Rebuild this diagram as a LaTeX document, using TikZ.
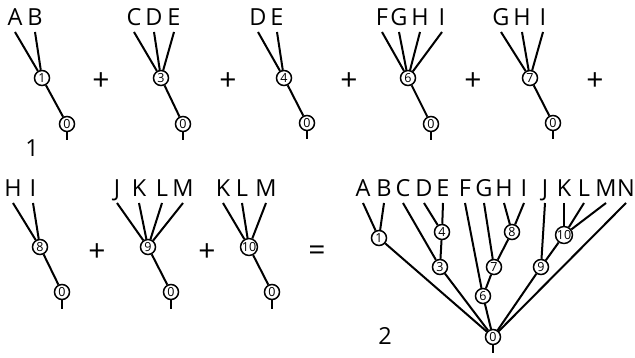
\documentclass[tikz,border=0pt]{standalone}
\usepackage{fontspec}
\setmainfont{Open Sans}
\tikzset{
  lbl/.style={anchor=south, inner xsep=0pt, inner ysep=6.5pt, text depth=0pt, font=\fontsize{23.5}{23.5}\selectfont},
  vtx/.style={circle, draw, line width=1.5pt, fill=white, minimum size=15pt, inner sep=0pt, font=\fontsize{12.5}{12.5}\selectfont},
  edge/.style={line width=2pt},
  op/.style={inner sep=0pt, font=\fontsize{30}{30}\selectfont},
  tag/.style={inner sep=0pt, font=\fontsize{23.5}{23.5}\selectfont},
}

\begin{document}
\begin{tikzpicture}[x=1pt, y=-1pt]
\useasboundingbox (0,0) rectangle (635,358);
% top row
\begin{scope}
  \foreach \l/\x in {A/15,B/35} \node[lbl] (a\l) at (\x,32) {\l};
  \node[vtx] (a1) at (42,78) {1};
  \node[vtx] (a0) at (67,124) {0};
  \coordinate (as) at (67,140);
  \foreach \l in {A,B} \draw[edge] (a\l.south) -- (a1);
  \draw[edge] (a1) -- (a0); \draw[edge] (a0) -- (as);
  \node[tag] (t1) at (32,148) {1};
\end{scope}
\node[op] (p1) at (101,82) {+};
\begin{scope}
  \foreach \l/\x in {C/134,D/154,E/174} \node[lbl] (b\l) at (\x,32) {\l};
  \node[vtx] (b3) at (161,78) {3};
  \node[vtx] (b0) at (183,124) {0};
  \coordinate (bs) at (183,140);
  \foreach \l in {C,D,E} \draw[edge] (b\l.south) -- (b3);
  \draw[edge] (b3) -- (b0); \draw[edge] (b0) -- (bs);
\end{scope}
\node[op] (p2) at (228,82) {+};
\begin{scope}
  \foreach \l/\x in {D/258,E/277} \node[lbl] (c\l) at (\x,32) {\l};
  \node[vtx] (c4) at (284,78) {4};
  \node[vtx] (c0) at (307,123) {0};
  \coordinate (cs) at (307,139);
  \foreach \l in {D,E} \draw[edge] (c\l.south) -- (c4);
  \draw[edge] (c4) -- (c0); \draw[edge] (c0) -- (cs);
\end{scope}
\node[op] (p3) at (349,82) {+};
\begin{scope}
  \foreach \l/\x in {F/382,G/399,H/420,I/442} \node[lbl] (d\l) at (\x,32) {\l};
  \node[vtx] (d6) at (408,78) {6};
  \node[vtx] (d0) at (431,124) {0};
  \coordinate (ds) at (431,140);
  \foreach \l in {F,G,H,I} \draw[edge] (d\l.south) -- (d6);
  \draw[edge] (d6) -- (d0); \draw[edge] (d0) -- (ds);
\end{scope}
\node[op] (p4) at (473,82) {+};
\begin{scope}
  \foreach \l/\x in {G/501,H/522,I/543} \node[lbl] (e\l) at (\x,32) {\l};
  \node[vtx] (e7) at (530,78) {7};
  \node[vtx] (e0) at (553,123) {0};
  \coordinate (es) at (553,139);
  \foreach \l in {G,H,I} \draw[edge] (e\l.south) -- (e7);
  \draw[edge] (e7) -- (e0); \draw[edge] (e0) -- (es);
\end{scope}
\node[op] (p5) at (595,82) {+};
% bottom row
\begin{scope}
  \foreach \l/\x in {H/13,I/33} \node[lbl] (f\l) at (\x,203) {\l};
  \node[vtx] (f8) at (40,247) {8};
  \node[vtx] (f0) at (62,292) {0};
  \coordinate (fs) at (62,309);
  \foreach \l in {H,I} \draw[edge] (f\l.south) -- (f8);
  \draw[edge] (f8) -- (f0); \draw[edge] (f0) -- (fs);
\end{scope}
\node[op] (p6) at (97,253) {+};
\begin{scope}
  \foreach \l/\x in {J/117,K/139,L/162,M/183} \node[lbl] (g\l) at (\x,203) {\l};
  \node[vtx] (g9) at (148,247) {9};
  \node[vtx] (g0) at (171,292) {0};
  \coordinate (gs) at (171,309);
  \foreach \l in {J,K,L,M} \draw[edge] (g\l.south) -- (g9);
  \draw[edge] (g9) -- (g0); \draw[edge] (g0) -- (gs);
\end{scope}
\node[op] (p7) at (207,253) {+};
\begin{scope}
  \foreach \l/\x in {K/223,L/242,M/266} \node[lbl] (h\l) at (\x,203) {\l};
  \node[vtx] (h10) at (249,247) {10};
  \node[vtx] (h0) at (272,292) {0};
  \coordinate (hs) at (272,309);
  \foreach \l in {K,L,M} \draw[edge] (h\l.south) -- (h10);
  \draw[edge] (h10) -- (h0); \draw[edge] (h0) -- (hs);
\end{scope}
\node[op] (eq) at (317,253) {=};
% merged tree
\begin{scope}
  \foreach \l/\x in {A/363,B/384,C/403,D/424,E/443,F/465,G/484,H/504,I/524,J/545,K/564,L/584,M/606,N/626}
    \node[lbl] (m\l) at (\x,203) {\l};
  \node[vtx] (m1) at (379,238) {1};
  \node[vtx] (m4) at (442,232) {4};
  \node[vtx] (m3) at (440,267) {3};
  \node[vtx] (m8) at (512,232) {8};
  \node[vtx] (m7) at (494,267) {7};
  \node[vtx] (m6) at (483,296) {6};
  \node[vtx] (m10) at (564,235) {10};
  \node[vtx] (m9) at (541,267) {9};
  \node[vtx] (m0) at (493,337) {0};
  \coordinate (ms) at (493,353);
  \draw[edge] (mA.south) -- (m1); \draw[edge] (mB.south) -- (m1);
  \draw[edge] (mC.south) -- (m3); \draw[edge] (mD.south) -- (m4); \draw[edge] (mE.south) -- (m4);
  \draw[edge] (mF.south) -- (m6); \draw[edge] (mG.south) -- (m7);
  \draw[edge] (mH.south) -- (m8); \draw[edge] (mI.south) -- (m8);
  \draw[edge] (mJ.south) -- (m9);
  \foreach \l in {K,L,M} \draw[edge] (m\l.south) -- (m10);
  \draw[edge] (mN.south) -- (m0);
  \draw[edge] (m4) -- (m3); \draw[edge] (m8) -- (m7); \draw[edge] (m7) -- (m6); \draw[edge] (m10) -- (m9);
  \foreach \n in {1,3,6,9} \draw[edge] (m\n) -- (m0);
  \draw[edge] (m0) -- (ms);
  \node[tag] (t2) at (385,336) {2};
\end{scope}
\end{tikzpicture}
\end{document}
